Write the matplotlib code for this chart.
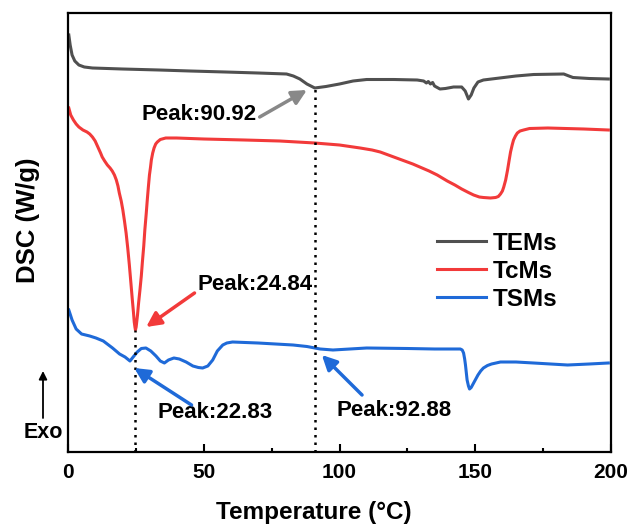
import numpy as np
import matplotlib
matplotlib.use("Agg")
import matplotlib.pyplot as plt
from matplotlib.ticker import MultipleLocator

plt.rcParams['font.family'] = ['Liberation Sans', 'DejaVu Sans']
plt.rcParams['font.weight'] = 'bold'

# ---- data (temperature °C, DSC arbitrary W/g) ----
tems_T = [0.3, 0.8, 1.5, 2.5, 4, 6, 9, 20, 33.6, 45, 58, 70, 80.5, 83, 85.4, 88, 90.9, 95, 100, 105,
          110, 120, 128.6, 131, 132, 132.7, 133.5, 134.3, 135, 137, 139, 142, 145, 146.3, 147.5, 148.5,
          149.5, 151, 153, 159, 165, 171.5, 182.6, 184.5, 186, 192, 199]
tems_v = [4.17, 4.07, 3.97, 3.91, 3.87, 3.85, 3.84, 3.83, 3.82, 3.81, 3.80, 3.79, 3.78, 3.76, 3.73, 3.68,
          3.64, 3.655, 3.68, 3.71, 3.725, 3.725, 3.72, 3.71, 3.69, 3.705, 3.68, 3.695, 3.66, 3.63, 3.635,
          3.65, 3.65, 3.61, 3.53, 3.57, 3.64, 3.70, 3.72, 3.74, 3.76, 3.775, 3.78, 3.76, 3.745, 3.735, 3.73]

tcms_T = [0.3, 1, 2, 3, 4, 5.5, 7, 8, 9, 10, 11, 12, 12.6, 13.5, 14.5, 15.5, 16.3, 17.1, 17.8, 18.4, 18.9,
          19.6, 20.2, 20.8, 21.4, 22.0, 22.6, 23.2, 23.7, 24.1, 24.4, 24.65, 24.84, 25.1, 25.6, 26.0, 26.5,
          27.0, 27.4, 27.9, 28.3, 28.8, 29.2, 29.6, 30, 30.4, 30.7, 31.2, 31.7, 32.3, 32.9, 34, 36, 40, 50,
          65, 78, 90.9, 100, 107.6, 112, 115, 118, 122, 127, 133, 136, 139.7, 142.5, 145, 147.5, 149.4,
          151.5, 153, 155.6, 157.5, 158.5, 159.3, 160, 160.5, 161.2, 161.9, 162.5, 163, 163.6, 164.1, 164.8,
          165.5, 166.5, 167.8, 170, 176.7, 190, 199]
tcms_v = [3.44, 3.37, 3.32, 3.28, 3.25, 3.22, 3.20, 3.18, 3.15, 3.11, 3.05, 2.99, 2.95, 2.91, 2.87, 2.84,
          2.81, 2.77, 2.72, 2.66, 2.59, 2.51, 2.42, 2.31, 2.19, 2.04, 1.87, 1.68, 1.52, 1.40, 1.30, 1.25,
          1.22, 1.25, 1.37, 1.49, 1.62, 1.76, 1.90, 2.06, 2.22, 2.38, 2.52, 2.65, 2.77, 2.85, 2.92, 2.99,
          3.04, 3.08, 3.10, 3.125, 3.14, 3.14, 3.13, 3.12, 3.11, 3.09, 3.07, 3.04, 3.02, 3.00, 2.97, 2.93,
          2.88, 2.81, 2.77, 2.71, 2.67, 2.63, 2.595, 2.57, 2.55, 2.545, 2.54, 2.545, 2.555, 2.58, 2.61, 2.65,
          2.72, 2.82, 2.92, 3.00, 3.07, 3.12, 3.16, 3.19, 3.21, 3.22, 3.235, 3.24, 3.23, 3.22]

tsms_T = [0.3, 1.5, 3, 5, 8, 10.3, 13, 16.4, 19, 21, 22.83, 24, 25.5, 27, 28.7, 30.5, 32.4, 34, 35.5, 37,
          39, 41, 43.5, 46, 48, 49.6, 51.5, 53.3, 55, 57, 58.5, 60.6, 70, 82.9, 88, 92.88, 97.6, 110, 125,
          135, 144.5, 145.2, 145.7, 146.1, 146.4, 147, 147.5, 147.9, 148.5, 149.4, 150.2, 151, 152, 153,
          154.5, 156, 159.3, 165, 171.5, 184, 192, 199]
tsms_v = [1.42, 1.32, 1.23, 1.18, 1.16, 1.14, 1.11, 1.04, 0.98, 0.95, 0.91, 0.95, 1.00, 1.035, 1.04, 1.01,
          0.96, 0.91, 0.89, 0.92, 0.94, 0.93, 0.90, 0.86, 0.845, 0.84, 0.86, 0.92, 1.01, 1.07, 1.09, 1.10,
          1.09, 1.07, 1.055, 1.03, 1.02, 1.04, 1.035, 1.03, 1.03, 1.02, 0.99, 0.93, 0.87, 0.72, 0.66, 0.63,
          0.645, 0.69, 0.73, 0.77, 0.81, 0.84, 0.865, 0.88, 0.90, 0.90, 0.89, 0.87, 0.88, 0.89]

labels = ["TEMs", "TcMs", "TSMs"]
colors = ["#505050", "#f23a3a", "#1f6ad8"]

peak_labels = ["Peak:90.92", "Peak:24.84", "Peak:22.83", "Peak:92.88"]
x_ticks = [0, 50, 100, 150, 200]

# ---- figure ----
fig = plt.figure(figsize=(6.33, 5.29), dpi=100)
ax = fig.add_axes([68/633, 1-452/529, (611-68)/633, (452-13)/529])

ax.plot(tems_T, tems_v, color=colors[0], lw=2.2, label=labels[0], solid_joinstyle='round')
ax.plot(tcms_T, tcms_v, color=colors[1], lw=2.2, label=labels[1], solid_joinstyle='round')
ax.plot(tsms_T, tsms_v, color=colors[2], lw=2.2, label=labels[2], solid_joinstyle='round')

# vertical dotted guide lines
ax.plot([24.84, 24.84], [0, 1.22], color='black', lw=1.8, ls=(0, (1, 2)))
ax.plot([90.92, 90.92], [0, 3.64], color='black', lw=1.8, ls=(0, (1, 2)))

ax.set_xlim(0, 200)
ax.set_ylim(0, 4.39)
ax.set_xticks(x_ticks)
ax.set_xticklabels([str(t) for t in x_ticks])
ax.xaxis.set_minor_locator(MultipleLocator(25))
ax.set_yticks([])
ax.tick_params(axis='x', which='major', direction='in', length=6, width=1.5, labelsize=15, pad=8)
ax.tick_params(axis='x', which='minor', direction='in', length=3, width=1.5)
for s in ax.spines.values():
    s.set_linewidth(1.6)

fig.text(314/633, 1-512/529, "Temperature (°C)", fontsize=17.5, fontweight='bold',
         ha='center', va='center')
fig.text(28/633, 1-220/529, "DSC (W/g)", fontsize=18.5, fontweight='bold',
         ha='center', va='center', rotation=90)

afs = 16
ann = [
    (peak_labels[0], (48.4, 3.37), (70.6, 3.35), (88.0, 3.62), "#888888"),
    (peak_labels[1], (68.8, 1.68), (46.6, 1.59), (28.8, 1.25), "#f23a3a"),
    (peak_labels[2], (54.0, 0.40), (45.5, 0.47), (24.4, 0.84), "#1f6ad8"),
    (peak_labels[3], (120.1, 0.42), (108.3, 0.57), (93.5, 0.97), "#1f6ad8"),
]
for txt, tpos, tail, head, c in ann:
    ax.text(tpos[0], tpos[1], txt, fontsize=afs, fontweight='bold', ha='center', va='center')
    ax.annotate("", xy=head, xytext=tail,
                arrowprops=dict(arrowstyle='-|>', color=c, lw=2.5, mutation_scale=22,
                                shrinkA=0, shrinkB=0))

# Exo arrow
fig.text(43/633, 1-432/529, "Exo", fontsize=15.5, fontweight='bold', ha='center', va='center')
ax.annotate("", xy=(43, 529-371), xytext=(43, 529-418), xycoords='figure pixels',
            textcoords='figure pixels',
            arrowprops=dict(arrowstyle='-|>', color='black', lw=1.3, mutation_scale=12,
                            shrinkA=0, shrinkB=0), annotation_clip=False)

leg = ax.legend(loc='upper left', bbox_to_anchor=(437/633, 1-232/529), bbox_transform=fig.transFigure,
                frameon=False, fontsize=17.5, handlelength=2.0, handletextpad=0.3,
                labelspacing=0.2, borderpad=0, borderaxespad=0)
for t in leg.get_texts():
    t.set_fontweight('bold')

fig.savefig("out.png", dpi=100)
